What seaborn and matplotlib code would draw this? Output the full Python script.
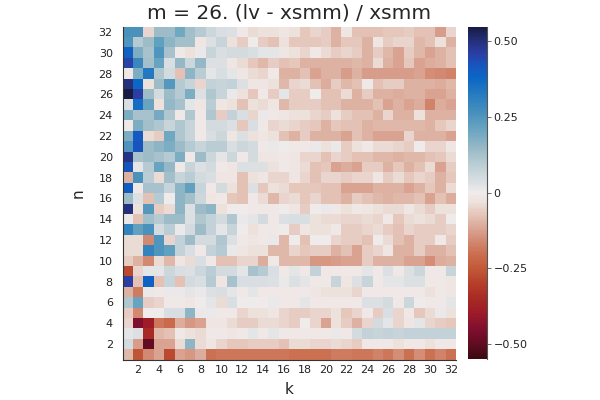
import numpy as np
import pandas as pd
import matplotlib
matplotlib.use("Agg")
import matplotlib.pyplot as plt
import seaborn as sns
from matplotlib.colors import LinearSegmentedColormap

title = "m = 26. (lv - xsmm) / xsmm"
k_values = list(range(1, 33))
n_values = list(range(32, 0, -1))

n32 = [0.26, 0.26, -0.05, 0.14, 0.14, 0.20, 0.13, 0.10, 0.06, 0.04, 0.03, -0.01, -0.04, -0.03, -0.03, -0.02,
       -0.03, -0.07, -0.05, -0.06, -0.10, -0.02, -0.08, -0.08, -0.08, -0.07, -0.07, -0.06, -0.08, -0.08, -0.13, -0.05]
n31 = [0.25, 0.10, 0.14, 0.22, 0.16, 0.13, 0.13, -0.02, 0.03, 0.07, -0.03, -0.06, 0.0, -0.06, -0.08, -0.03,
       -0.07, -0.07, -0.07, -0.06, -0.10, -0.07, -0.07, -0.10, -0.02, -0.06, -0.05, -0.05, -0.09, -0.08, -0.03, -0.10]
n30 = [0.39, 0.18, 0.12, 0.25, 0.12, -0.01, -0.03, 0.01, 0.07, 0.04, 0.05, 0.05, 0.04, 0.02, 0.02, -0.02,
       -0.03, -0.05, -0.01, -0.04, -0.06, -0.05, -0.06, -0.10, -0.06, -0.09, -0.12, -0.06, -0.09, -0.12, -0.10, -0.08]
n29 = [0.45, 0.29, 0.13, 0.21, 0.04, 0.15, 0.06, 0.15, 0.03, 0.03, -0.02, -0.04, -0.07, -0.09, -0.06, -0.08,
       -0.07, -0.10, -0.10, -0.10, -0.10, -0.10, -0.09, -0.10, -0.04, -0.10, -0.12, -0.07, -0.12, -0.11, -0.10, -0.08]
n28 = [-0.01, 0.18, 0.33, 0.11, 0.05, -0.08, 0.16, 0.09, 0.02, 0.04, 0.02, -0.02, -0.04, -0.05, -0.01, -0.10,
       -0.10, -0.08, -0.12, -0.10, -0.10, -0.13, -0.10, -0.13, -0.13, -0.13, -0.13, -0.13, -0.12, -0.15, -0.16, -0.17]
n27 = [0.50, 0.38, -0.03, 0.14, 0.24, 0.10, 0.07, -0.05, 0.08, 0.07, 0.08, 0.03, -0.02, -0.02, -0.03, -0.09,
       -0.05, -0.04, -0.08, -0.11, -0.06, -0.09, -0.08, -0.01, -0.08, -0.06, -0.06, -0.10, -0.10, -0.10, -0.11, -0.09]
n26 = [0.55, 0.46, 0.14, 0.05, 0.14, 0.10, 0.18, 0.03, 0.11, 0.07, 0.01, -0.03, -0.07, -0.01, -0.06, 0.02,
       -0.06, -0.06, 0.00, -0.08, -0.08, -0.04, -0.10, -0.06, -0.10, -0.10, -0.11, -0.10, -0.10, -0.12, -0.12, -0.10]
n25 = [0.04, 0.36, 0.21, -0.03, 0.15, 0.12, 0.02, -0.02, 0.09, -0.02, -0.03, -0.08, -0.03, -0.04, -0.02, -0.09,
       -0.06, -0.06, -0.06, -0.08, -0.08, -0.10, -0.10, -0.10, -0.08, -0.12, -0.10, -0.12, -0.11, -0.17, -0.11, -0.12]
n24 = [0.18, 0.12, 0.12, 0.19, 0.11, -0.01, 0.11, -0.01, 0.11, -0.06, 0.08, 0.04, -0.05, 0.01, -0.01, -0.02,
       -0.03, -0.03, -0.05, -0.06, -0.03, -0.06, -0.08, -0.08, -0.10, -0.05, -0.10, -0.10, -0.03, -0.10, -0.10, -0.10]
n23 = [-0.01, 0.18, 0.13, 0.11, 0.07, 0.11, 0.07, -0.01, 0.05, 0.05, 0.03, -0.07, 0.04, -0.01, -0.05, -0.04,
       -0.05, -0.06, -0.07, -0.10, -0.07, -0.08, -0.08, -0.10, -0.09, -0.09, -0.09, -0.09, -0.09, -0.10, -0.07, -0.05]
n22 = [0.18, 0.41, -0.04, -0.06, 0.20, 0.11, 0.07, -0.01, 0.04, 0.06, -0.02, 0.03, -0.03, -0.02, -0.03, -0.08,
       -0.10, -0.06, -0.10, -0.10, -0.10, -0.12, -0.08, -0.10, -0.12, -0.12, -0.12, -0.05, -0.10, -0.10, -0.10, -0.12]
n21 = [0.25, 0.42, 0.14, 0.16, 0.18, 0.14, 0.10, 0.07, 0.09, 0.09, 0.04, 0.06, 0.05, -0.01, 0.01, 0.0,
       -0.01, -0.01, 0.01, -0.03, 0.01, -0.06, -0.03, -0.01, -0.04, -0.04, -0.05, -0.06, 0.0, -0.05, -0.05, -0.02]
n20 = [0.49, 0.12, 0.14, 0.12, 0.10, 0.18, -0.01, 0.14, 0.06, 0.02, 0.06, -0.01, 0.05, -0.02, -0.02, -0.01,
       -0.02, -0.05, -0.05, -0.08, -0.05, -0.06, -0.08, -0.08, -0.09, -0.09, -0.10, -0.09, -0.09, -0.08, -0.07, -0.04]
n19 = [0.42, 0.02, 0.10, 0.21, 0.15, -0.01, 0.07, 0.03, 0.05, -0.01, -0.02, 0.03, 0.03, 0.03, -0.03, -0.01,
       -0.02, -0.04, -0.08, -0.07, -0.12, -0.11, -0.12, -0.06, -0.06, -0.10, -0.07, -0.10, -0.08, -0.04, -0.12, -0.06]
n18 = [-0.10, 0.26, 0.09, -0.04, 0.13, 0.07, 0.09, 0.05, 0.04, -0.02, -0.02, -0.08, -0.03, -0.02, -0.05, -0.05,
       -0.02, -0.05, -0.08, -0.05, -0.05, -0.06, -0.05, -0.05, -0.02, -0.06, -0.04, -0.07, -0.05, -0.06, -0.10, -0.07]
n17 = [0.40, -0.01, 0.12, 0.12, 0.07, 0.16, 0.22, 0.07, -0.01, 0.05, -0.03, -0.08, 0.03, -0.07, -0.03, -0.04,
       -0.07, -0.07, -0.07, -0.08, -0.08, -0.12, -0.12, -0.12, -0.10, -0.10, -0.10, -0.12, -0.10, -0.07, -0.10, -0.04]
n16 = [0.14, 0.03, -0.08, 0.10, 0.0, 0.16, 0.13, 0.06, -0.02, -0.01, -0.07, -0.08, -0.01, -0.04, -0.09, -0.05,
       -0.04, -0.07, -0.05, -0.08, -0.08, -0.10, -0.06, -0.08, -0.09, -0.10, -0.09, -0.09, -0.08, -0.12, -0.08, -0.11]
n15 = [0.50, -0.03, 0.24, -0.06, -0.04, 0.16, 0.03, 0.14, 0.16, -0.03, 0.0, 0.0, -0.01, -0.01, -0.01, 0.0,
       -0.02, -0.06, 0.0, 0.01, -0.01, -0.03, -0.01, -0.02, -0.03, -0.04, -0.04, -0.02, -0.04, -0.06, -0.03, -0.03]
n14 = [0.01, -0.08, 0.13, 0.10, 0.14, 0.14, 0.03, 0.11, 0.08, 0.05, 0.11, 0.01, 0.02, 0.05, -0.01, 0.03,
       0.04, 0.04, -0.03, -0.04, -0.04, -0.05, -0.05, -0.04, -0.05, -0.01, -0.07, -0.04, -0.03, -0.04, -0.06, 0.0]
n13 = [0.30, 0.22, 0.26, 0.05, 0.09, 0.01, 0.05, 0.14, 0.08, 0.02, 0.07, 0.0, -0.03, -0.01, -0.01, 0.0,
       -0.06, -0.02, -0.03, -0.03, -0.01, -0.06, -0.06, -0.05, -0.04, -0.06, -0.08, -0.05, -0.06, -0.06, -0.06, -0.05]
n12 = [-0.04, -0.04, -0.16, 0.25, -0.05, 0.08, 0.14, 0.05, 0.05, 0.11, 0.03, -0.01, -0.02, -0.01, 0.01, -0.09,
       0.0, -0.08, 0.0, 0.0, -0.05, -0.06, -0.06, -0.08, 0.0, -0.04, -0.08, -0.10, -0.06, -0.06, -0.01, -0.06]
n11 = [-0.04, -0.04, 0.30, 0.25, 0.22, 0.08, 0.04, -0.01, 0.08, 0.10, 0.01, -0.02, -0.03, -0.03, -0.09, -0.09,
       -0.05, -0.07, -0.06, -0.06, -0.10, -0.08, -0.12, -0.06, -0.05, -0.02, -0.10, -0.10, -0.06, -0.10, -0.10, -0.08]
n10 = [-0.06, -0.10, -0.16, -0.04, -0.09, -0.02, -0.04, 0.04, -0.01, -0.08, -0.08, -0.05, -0.05, -0.11, -0.01, -0.09,
       -0.09, -0.09, -0.14, -0.14, -0.13, -0.12, -0.12, -0.06, -0.10, -0.10, -0.10, -0.12, -0.12, -0.15, -0.11, -0.10]
n9 = [-0.28, -0.05, 0.02, 0.02, 0.06, 0.04, 0.03, 0.06, 0.09, 0.05, 0.05, 0.02, 0.12, 0.10, 0.04, -0.01,
      0.02, -0.01, 0.08, -0.01, -0.01, -0.01, -0.01, 0.02, -0.01, 0.03, -0.01, 0.03, 0.06, -0.01, -0.01, 0.07]
n8 = [0.46, -0.08, 0.39, -0.08, 0.07, -0.08, 0.05, 0.04, 0.10, -0.02, 0.12, 0.04, 0.04, 0.04, 0.03, 0.01,
      0.03, 0.02, -0.01, -0.01, 0.07, -0.02, 0.03, 0.07, -0.01, 0.02, 0.02, 0.03, 0.03, -0.01, -0.01, -0.02]
n7 = [-0.10, -0.18, 0.01, -0.01, 0.01, 0.01, 0.02, 0.01, 0.03, 0.04, 0.02, -0.01, 0.02, -0.01, -0.01, -0.01,
      -0.01, -0.01, -0.02, -0.03, -0.03, -0.03, -0.05, -0.01, -0.01, -0.01, -0.01, -0.01, -0.01, -0.03, -0.01, -0.02]
n6 = [0.11, 0.21, -0.06, -0.05, -0.01, -0.01, -0.02, 0.0, 0.02, -0.04, 0.04, 0.0, 0.0, 0.0, 0.01, -0.01,
      -0.01, 0.02, -0.01, -0.01, -0.01, -0.01, -0.01, 0.03, 0.03, 0.05, -0.01, 0.06, 0.0, -0.01, -0.01, 0.02]
n5 = [-0.06, -0.16, 0.0, 0.0, 0.04, 0.04, 0.16, 0.01, 0.01, -0.01, -0.01, -0.05, -0.03, -0.03, -0.02, -0.05,
      -0.06, -0.06, -0.05, -0.05, -0.03, -0.07, -0.05, -0.01, -0.06, 0.04, -0.05, -0.01, -0.07, -0.04, 0.01, -0.03]
n4 = [-0.05, -0.45, -0.39, -0.19, -0.21, -0.11, -0.14, -0.12, -0.02, -0.02, -0.04, -0.06, -0.06, -0.04, -0.04, -0.05,
      -0.06, 0.0, -0.05, -0.12, -0.03, -0.06, -0.10, -0.05, 0.05, 0.02, -0.05, -0.02, 0.02, -0.05, -0.06, -0.07]
n3 = [0.02, 0.03, -0.35, -0.09, -0.08, -0.01, -0.03, -0.04, -0.01, -0.01, -0.02, -0.01, 0.02, -0.01, 0.02, -0.01,
      -0.01, -0.01, -0.01, -0.01, 0.01, -0.01, 0.05, 0.08, 0.07, 0.08, 0.07, 0.08, 0.08, 0.08, 0.08, 0.08]
n2 = [0.05, -0.13, -0.50, -0.12, -0.12, -0.04, 0.16, -0.04, -0.02, -0.05, -0.07, -0.07, -0.06, -0.06, -0.06, -0.08,
      -0.04, -0.04, -0.05, -0.05, -0.04, -0.05, -0.06, -0.01, -0.01, -0.01, -0.03, -0.01, -0.01, -0.03, -0.01, -0.01]
n1 = [-0.09, -0.26, -0.16, -0.12, -0.28, -0.12, -0.14, -0.11, -0.20, -0.19, -0.19, -0.19, -0.19, -0.19, -0.19, -0.19,
      -0.20, -0.20, -0.20, -0.20, -0.18, -0.18, -0.19, -0.19, -0.17, -0.19, -0.15, -0.20, -0.15, -0.20, -0.17, -0.20]

rows = [n32, n31, n30, n29, n28, n27, n26, n25, n24, n23, n22, n21, n20, n19, n18, n17,
        n16, n15, n14, n13, n12, n11, n10, n9, n8, n7, n6, n5, n4, n3, n2, n1]
df = pd.DataFrame(rows, index=n_values, columns=k_values)

cbar_ticks = [-0.5, -0.25, 0.0, 0.25, 0.5]
cbar_ticklabels = ["\u22120.50", "\u22120.25", "0", "0.25", "0.50"]
x_ticks = list(range(2, 33, 2))
y_ticks = list(range(2, 33, 2))

vmax = 0.548
anchors = [
    (-0.548, "#3C0912"), (-0.50, "#620C22"), (-0.45, "#800F30"), (-0.40, "#9D1A28"),
    (-0.35, "#A82A25"), (-0.30, "#B63F2A"), (-0.25, "#C25A38"), (-0.20, "#CC7052"),
    (-0.15, "#D4907A"), (-0.10, "#DEB3A4"), (-0.06, "#E7CEC5"), (-0.03, "#EEE2DE"),
    (0.0, "#F0ECEB"), (0.03, "#DEE1E3"), (0.08, "#C2D2D8"), (0.14, "#9DBCC8"),
    (0.20, "#70A7C1"), (0.26, "#4A92BC"), (0.32, "#2A7DC0"), (0.38, "#0C66C4"),
    (0.42, "#1656C0"), (0.46, "#2A3FA6"), (0.50, "#25307F"), (0.548, "#181C43"),
]
cmap = LinearSegmentedColormap.from_list(
    "balance_like", [((v + vmax) / (2 * vmax), c) for v, c in anchors])

sns.set_style("white")
plt.rcParams['font.family'] = ['DejaVu Sans']

fig = plt.figure(figsize=(6, 4), dpi=100)
ax = fig.add_axes([122.5 / 600, 1 - 359.5 / 400, (456 - 122.5) / 600, (359.5 - 26.7) / 400])
cax = fig.add_axes([468 / 600, 1 - 358.5 / 400, 18.5 / 600, (358.5 - 26.7) / 400])

sns.heatmap(df, ax=ax, cbar_ax=cax, cmap=cmap, vmin=-vmax, vmax=vmax,
            xticklabels=False, yticklabels=False, linewidths=0)

ax.set_xticks([k - 0.5 for k in x_ticks])
ax.set_xticklabels([str(k) for k in x_ticks], fontsize=8, color="#222222")
ax.set_yticks([(32 - n) + 0.5 for n in y_ticks])
ax.set_yticklabels([str(n) for n in y_ticks], fontsize=8, color="#222222", rotation=0)
ax.tick_params(axis="x", direction="in", length=3, width=0.6, color="#333333", pad=4)
ax.tick_params(axis="y", direction="in", length=3, width=0.6, color="#333333", pad=7)
for side in ["left", "bottom"]:
    ax.spines[side].set_visible(True)
    ax.spines[side].set_color("#333333")
    ax.spines[side].set_linewidth(0.8)
ax.set_xlabel("k", fontsize=11, labelpad=5)
ax.set_ylabel("n", fontsize=11, labelpad=9)
ax.set_title(title, fontsize=14.5, pad=6)

cax.set_yticks(cbar_ticks)
cax.set_yticklabels(cbar_ticklabels, fontsize=8, color="#222222")
cax.tick_params(axis="y", direction="out", length=3, width=0.6, color="#555555", pad=2)
for s in cax.spines.values():
    s.set_visible(False)
cax.spines["right"].set_visible(True)
cax.spines["right"].set_color("#555555")
cax.spines["right"].set_linewidth(0.8)

fig.savefig("out.png", dpi=100)
